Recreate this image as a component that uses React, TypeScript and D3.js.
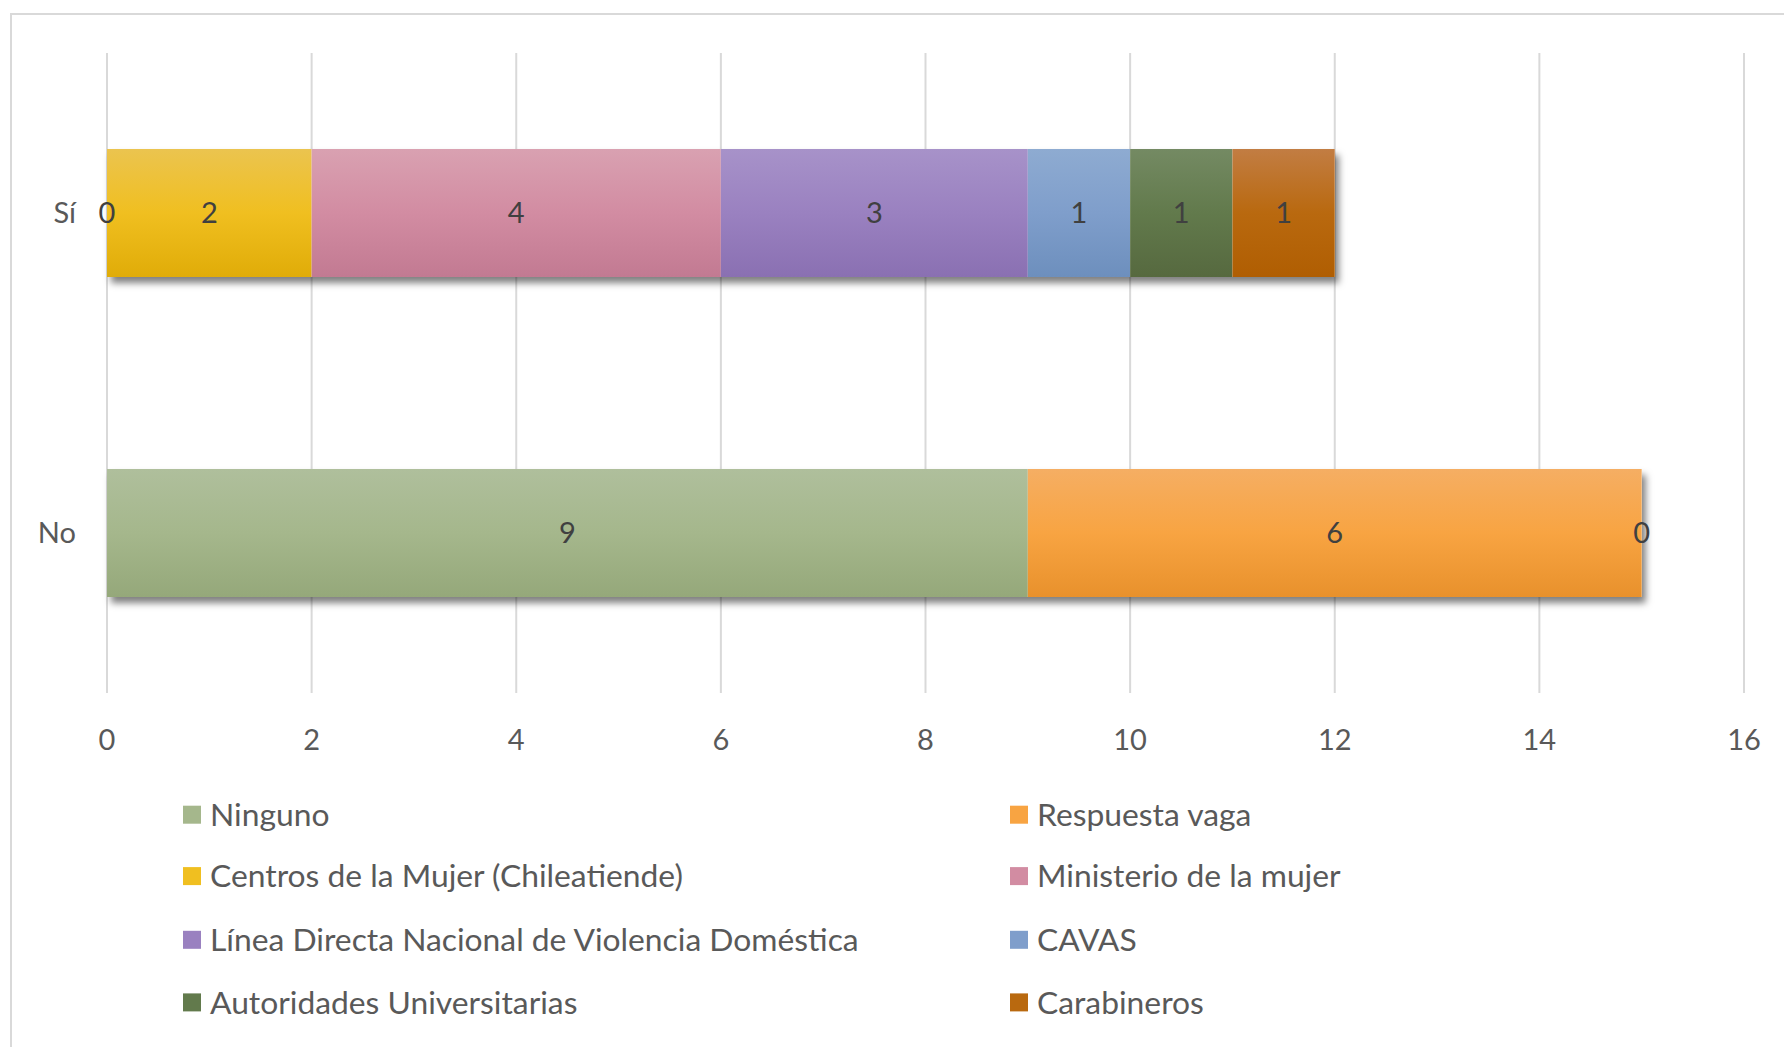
import React from "react";
import * as d3 from "d3";

const categories = ["Sí", "No"];
const seriesNames = [
  "Ninguno",
  "Respuesta vaga",
  "Centros de la Mujer (Chileatiende)",
  "Ministerio de la mujer",
  "Línea Directa Nacional de Violencia Doméstica",
  "CAVAS",
  "Autoridades Universitarias",
  "Carabineros",
];
// values per series: [Sí, No]
const ninguno = [0, 9];
const respuestaVaga = [null, 6];
const centros = [2, 0];
const ministerio = [4, null];
const linea = [3, null];
const cavas = [1, null];
const autoridades = [1, null];
const carabineros = [1, null];
const seriesValues: (number | null)[][] = [ninguno, respuestaVaga, centros, ministerio, linea, cavas, autoridades, carabineros];
const xTicks = [0, 2, 4, 6, 8, 10, 12, 14, 16];

const colorsTop = ["#afbf9c", "#f5ae63", "#ebc44f", "#d9a1b1", "#a792c9", "#8eabd1", "#748a63", "#c27d43"];
const colorsMid = ["#a5b78c", "#f8a442", "#f0bf20", "#d28ca2", "#9a81c0", "#7f9ecb", "#627a4c", "#b9690f"];
const colorsBot = ["#95a87a", "#e8912c", "#e0ac08", "#c27a92", "#8a70b2", "#6d8fbd", "#56693f", "#b05e02"];

const W = 1784;
const H = 1047;
const plotLeft = 107;
const plotRight = 1744;
const plotTop = 53;
const plotBottom = 693;
const FONT = "Lato, 'Open Sans', sans-serif";

export default function App() {
  const x = d3.scaleLinear().domain([0, 16]).range([plotLeft, plotRight]);
  const y = d3.scaleBand<string>().domain(categories).range([plotTop, plotBottom]).paddingInner(0.6).paddingOuter(0.3);

  const segments: { cat: string; s: number; x0: number; x1: number; v: number }[] = [];
  categories.forEach((cat, ci) => {
    let acc = 0;
    seriesValues.forEach((vals, si) => {
      const v = vals[ci];
      if (v === null || v === undefined) return;
      segments.push({ cat, s: si, x0: acc, x1: acc + v, v });
      acc += v;
    });
  });

  const legendRows = [814.7, 876.1, 939.8, 1002.4];
  const legendCols = [183, 1010];

  return (
    <svg width={W} height={H} style={{ position: "absolute", left: 0, top: 0, background: "#fff" }} fontFamily={FONT}>
      <defs>
        {seriesNames.map((_, i) => (
          <linearGradient key={i} id={`g${i}`} x1="0" y1="0" x2="0" y2="1">
            <stop offset="0" stopColor={colorsTop[i]} />
            <stop offset="0.5" stopColor={colorsMid[i]} />
            <stop offset="1" stopColor={colorsBot[i]} />
          </linearGradient>
        ))}
        <filter id="shadow" x="-5%" y="-20%" width="115%" height="160%">
          <feDropShadow dx="4" dy="6" stdDeviation="3.5" floodColor="#000" floodOpacity="0.5" />
        </filter>
      </defs>
      <rect x={0} y={0} width={W} height={H} fill="#fff" />
      <rect x={11} y={14} width={W + 20} height={H + 20} fill="#fff" stroke="#d9d9d9" strokeWidth={2} />

      {xTicks.map((t) => (
        <line key={t} x1={x(t)} x2={x(t)} y1={plotTop} y2={plotBottom} stroke="#d9d9d9" strokeWidth={2} />
      ))}

      {categories.map((cat) => {
        const segs = segments.filter((d) => d.cat === cat);
        const maxX = d3.max(segs, (d) => d.x1) ?? 0;
        return (
          <g key={cat}>
            <rect x={x(0)} y={y(cat)!} width={x(maxX) - x(0)} height={y.bandwidth()} fill="#fff" filter="url(#shadow)" />
            {segs.map((d, i) => (
              <rect key={i} x={x(d.x0)} y={y(cat)!} width={x(d.x1) - x(d.x0)} height={y.bandwidth()} fill={`url(#g${d.s})`} />
            ))}
          </g>
        );
      })}

      {segments.map((d, i) => (
        <text key={i} x={(x(d.x0) + x(d.x1)) / 2} y={y(d.cat)! + y.bandwidth() / 2} dy="0.35em" textAnchor="middle" fontSize={29} fill="#404040">
          {d.v}
        </text>
      ))}

      {categories.map((cat) => (
        <text key={cat} x={76} y={y(cat)! + y.bandwidth() / 2} dy="0.35em" textAnchor="end" fontSize={29} fill="#595959">
          {cat}
        </text>
      ))}

      {xTicks.map((t) => (
        <text key={t} x={x(t)} y={740} dy="0.35em" textAnchor="middle" fontSize={29} fill="#595959">
          {t}
        </text>
      ))}

      {seriesNames.map((name, i) => {
        const col = i % 2;
        const row = Math.floor(i / 2);
        const lx = legendCols[col];
        const ly = legendRows[row];
        return (
          <g key={name}>
            <rect x={lx} y={ly - 9} width={18} height={18} fill={colorsMid[i]} />
            <text x={lx + 27} y={ly} dy="0.35em" fontSize={31.8} fill="#595959">
              {name}
            </text>
          </g>
        );
      })}
    </svg>
  );
}
